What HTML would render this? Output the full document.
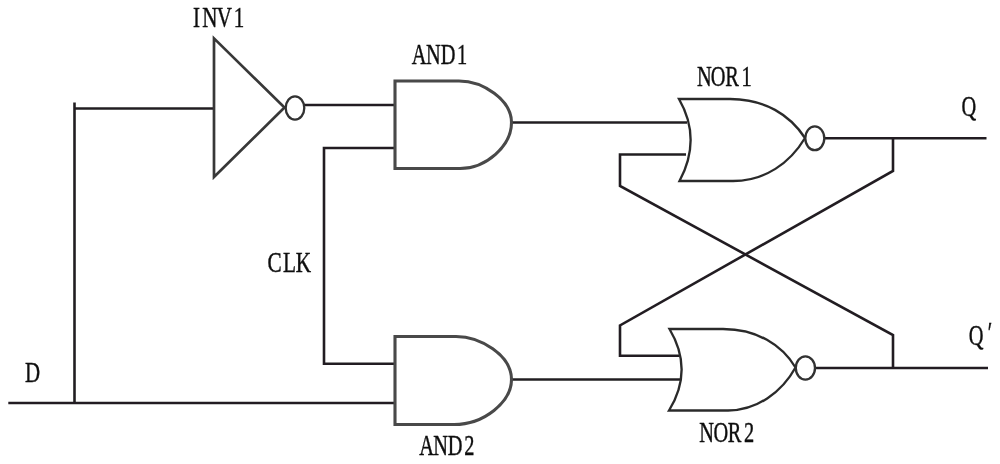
<!DOCTYPE html>
<html>
<head>
<meta charset="utf-8">
<title>D latch circuit</title>
<style>
html,body{margin:0;padding:0;background:#fff;}
body{width:1000px;height:464px;overflow:hidden;}
svg{display:block;}
.w{fill:none;stroke:#221f22;stroke-width:2.6;stroke-linecap:butt;stroke-linejoin:miter;}
.g{fill:#fff;stroke:#484848;stroke-width:3.1;stroke-linejoin:miter;}
.n{fill:#fff;stroke:#2c2c2c;stroke-width:2.35;stroke-linejoin:miter;}
.t{fill:#fff;stroke:#383838;stroke-width:2.7;stroke-linejoin:miter;}
.c{fill:#fff;stroke:#303030;stroke-width:2.3;}
text{font-family:"Liberation Serif","Noto Serif CJK SC",serif;font-size:30px;fill:#111;stroke:#111;stroke-width:0.45;}
</style>
</head>
<body>
<svg width="1000" height="464" viewBox="0 0 1000 464">
<defs><filter id="b" x="-2%" y="-2%" width="104%" height="104%"><feGaussianBlur stdDeviation="0.45"/></filter><filter id="tb" x="-2%" y="-2%" width="104%" height="104%"><feGaussianBlur stdDeviation="0.35"/></filter></defs>
<rect x="0" y="0" width="1000" height="464" fill="#fff"/>
<g filter="url(#b)">
<!-- wires -->
<path class="w" d="M8.3,403 H395"/>
<path class="w" d="M74.5,403 V102.5"/>
<path class="w" d="M74,108.5 H214"/>
<path class="w" d="M304,105 H395"/>
<path class="w" d="M395,148 H324 V363.75 H395"/>
<path class="w" d="M511.5,122.5 H687"/>
<path class="w" d="M511.5,379.5 H681"/>
<path class="w" d="M824,138.2 H986.5"/>
<path class="w" d="M815,368 H988"/>
<path class="w" d="M893,138 V171 L620,325.4 V355.75 H679"/>
<path class="w" d="M686,154.5 H620 V186 L893,335 V368"/>
<!-- INV1 -->
<path class="t" d="M214,38.4 V177 L284.5,107.5 Z"/>
<ellipse class="c" cx="295" cy="108" rx="9.3" ry="11.6"/>
<!-- AND1 -->
<path class="g" d="M395,81 H459 C483,81 511.5,100 511.5,122.5 C511.5,146 486,168.5 460,168.5 H395 Z"/>
<!-- AND2 -->
<path class="g" d="M395,336.5 H456 C480,336.5 511.5,355 511.5,379.5 C511.5,402 484,424.5 454,424.5 H395 Z"/>
<!-- NOR1 -->
<path class="n" d="M679,99 H730 C765,99 790,115 805,138 C790,163 765,181 733,181 H679.5 Q702,139 679,99 Z"/>
<ellipse class="c" cx="814.8" cy="138.3" rx="9.5" ry="11.9"/>
<!-- NOR2 -->
<path class="n" d="M669.5,329 H723 C757,329 782,345 795.5,367.5 C782,392 757,410.5 728,410.5 H669 Q694,370 669.5,329 Z"/>
<ellipse class="c" cx="805.4" cy="368" rx="9.6" ry="11.6"/>
</g>
<!-- labels -->
<g filter="url(#tb)">
<text transform="scale(0.7,1)" x="275.76 289.06 309.62 334.06" y="27.1">INV1</text>
<text transform="scale(0.68,1)" x="605.67 626.55 648.32 672.05" y="64.3">AND1</text>
<text transform="scale(0.68,1)" x="1025.08 1045.23 1066.41 1090.58" y="86.4">NOR1</text>
<text transform="scale(0.68,1)" x="1028.46 1049.2 1070.39 1094.27" y="441.7">NOR2</text>
<text transform="scale(0.68,1)" x="616.41 636.99 658.47 682.8" y="455.5">AND2</text>
<text transform="scale(0.71,1)" x="376.86 398.62 416.51" y="272">CLK</text>
<text transform="scale(0.7,1)" x="35.78" y="382.5">D</text>
<text transform="scale(0.68,1)" x="1414.04" y="116.3">Q</text>
<text transform="scale(0.68,1)" x="1424.49 1452.44" y="344.8 342.3">Q′</text>
</g>
</svg>
</body>
</html>
